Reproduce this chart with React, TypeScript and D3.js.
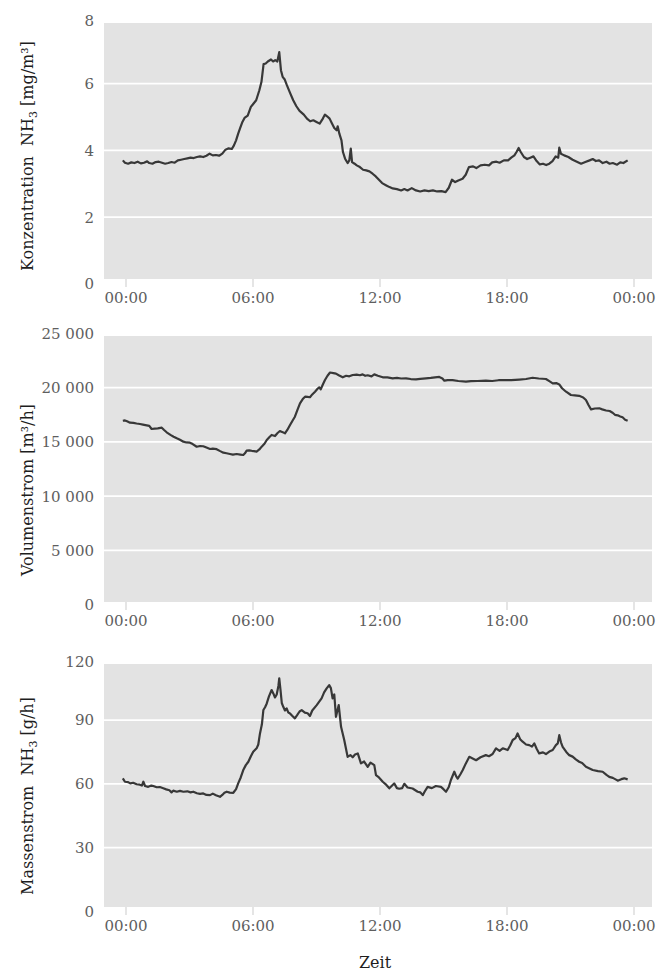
import React from "react";
import * as d3 from "d3";

// ---------- data (hours of day) ----------
const concTime = [-0.15,-0.05,0.1,0.25,0.4,0.55,0.7,0.85,1.0,1.1,1.25,1.4,1.55,1.7,1.85,2.0,2.15,2.3,2.45,2.6,2.75,2.9,3.05,3.2,3.35,3.5,3.65,3.8,3.95,4.1,4.25,4.4,4.55,4.7,4.85,5.0,5.1,5.2,5.3,5.4,5.5,5.6,5.75,5.9,6.0,6.15,6.3,6.4,6.5,6.6,6.7,6.85,6.95,7.05,7.15,7.24,7.32,7.4,7.5,7.6,7.75,7.9,8.05,8.2,8.4,8.55,8.7,8.85,9.0,9.15,9.3,9.4,9.5,9.62,9.72,9.84,9.95,10.0,10.08,10.18,10.25,10.35,10.47,10.55,10.62,10.68,10.8,10.9,11.05,11.2,11.35,11.5,11.65,11.8,11.95,12.1,12.3,12.45,12.6,12.8,13.0,13.15,13.3,13.5,13.7,13.9,14.1,14.3,14.5,14.7,14.9,15.1,15.25,15.4,15.55,15.7,15.9,16.05,16.2,16.4,16.55,16.75,16.95,17.15,17.3,17.5,17.65,17.85,18.05,18.2,18.35,18.45,18.55,18.65,18.8,18.95,19.1,19.25,19.4,19.55,19.7,19.85,20.0,20.15,20.3,20.42,20.47,20.55,20.7,20.9,21.1,21.3,21.5,21.7,21.9,22.05,22.2,22.35,22.52,22.7,22.85,23.0,23.2,23.35,23.5,23.7];
const concValue = [3.70,3.63,3.60,3.64,3.62,3.66,3.61,3.63,3.67,3.62,3.60,3.65,3.66,3.63,3.60,3.62,3.65,3.63,3.70,3.72,3.74,3.76,3.78,3.77,3.80,3.82,3.80,3.84,3.90,3.85,3.86,3.84,3.90,4.02,4.06,4.04,4.15,4.30,4.50,4.68,4.85,4.97,5.04,5.30,5.38,5.50,5.80,6.05,6.58,6.60,6.66,6.72,6.66,6.70,6.66,6.94,6.40,6.20,6.12,5.95,5.72,5.50,5.32,5.18,5.07,4.95,4.87,4.90,4.85,4.80,4.95,5.07,5.02,4.95,4.82,4.67,4.60,4.72,4.50,4.30,3.95,3.75,3.62,3.70,4.05,3.65,3.60,3.55,3.50,3.42,3.40,3.37,3.30,3.22,3.12,3.02,2.95,2.90,2.86,2.84,2.80,2.84,2.80,2.87,2.80,2.77,2.80,2.78,2.80,2.77,2.78,2.75,2.88,3.12,3.05,3.10,3.15,3.27,3.50,3.52,3.47,3.55,3.57,3.55,3.64,3.66,3.63,3.70,3.70,3.78,3.85,3.95,4.07,3.95,3.80,3.74,3.78,3.82,3.68,3.58,3.60,3.56,3.60,3.68,3.82,3.78,4.08,3.90,3.85,3.80,3.72,3.66,3.60,3.65,3.70,3.74,3.68,3.70,3.62,3.66,3.60,3.62,3.57,3.64,3.62,3.70];

const flowTime = [-0.15,-0.05,0.05,0.19,0.35,0.5,0.66,0.8,0.98,1.1,1.21,1.35,1.5,1.69,1.8,1.92,2.1,2.25,2.4,2.55,2.71,2.85,3.02,3.15,3.34,3.5,3.65,3.8,3.97,4.1,4.28,4.45,4.6,4.75,4.91,5.05,5.23,5.4,5.54,5.62,5.7,5.82,5.94,6.05,6.17,6.3,6.41,6.55,6.65,6.78,6.88,7.04,7.15,7.27,7.4,7.51,7.62,7.75,7.88,7.98,8.1,8.22,8.35,8.46,8.58,8.69,8.8,8.93,9.05,9.13,9.2,9.3,9.4,9.52,9.64,9.8,9.92,10.05,10.24,10.4,10.55,10.71,10.9,11.05,11.18,11.3,11.42,11.6,11.73,11.9,12.13,12.35,12.6,12.8,13.0,13.23,13.45,13.7,13.9,14.17,14.4,14.6,14.8,14.95,15.04,15.2,15.43,15.7,16.06,16.3,16.6,17.0,17.3,17.6,17.95,18.2,18.58,18.9,19.21,19.5,19.84,20.0,20.16,20.35,20.47,20.6,20.79,21.02,21.2,21.41,21.6,21.73,21.85,21.97,22.15,22.36,22.5,22.68,22.85,22.99,23.1,23.23,23.35,23.46,23.58,23.7];
const flowValue = [16950,16980,16900,16770,16760,16700,16650,16600,16530,16480,16190,16220,16250,16310,16100,15885,15650,15480,15330,15200,15020,14950,14925,14800,14555,14620,14600,14480,14345,14380,14330,14150,14005,13950,13885,13820,13885,13830,13790,13950,14190,14220,14180,14150,14100,14300,14560,14850,15175,15450,15640,15540,15800,16005,15900,15790,16100,16560,17000,17325,17950,18560,18950,19170,19150,19120,19380,19630,19900,20035,19850,20300,20710,21100,21400,21350,21300,21150,20960,21100,21050,21170,21200,21150,21230,21100,21150,21050,21230,21100,20960,20950,20865,20900,20850,20865,20800,20775,20820,20865,20900,20950,20990,20850,20645,20700,20700,20620,20555,20600,20620,20645,20620,20690,20710,20700,20750,20800,20920,20850,20800,20600,20400,20420,20300,19950,19630,19325,19300,19250,19100,18865,18400,18000,18080,18100,18000,17900,17850,17690,17500,17450,17350,17270,17050,16955];

const massTime = [-0.15,-0.05,0.1,0.2,0.34,0.5,0.65,0.75,0.82,0.9,1.05,1.2,1.29,1.45,1.6,1.76,1.9,2.05,2.15,2.23,2.4,2.55,2.71,2.9,3.05,3.18,3.35,3.5,3.65,3.8,3.97,4.1,4.25,4.44,4.55,4.65,4.76,4.9,5.07,5.2,5.3,5.42,5.54,5.66,5.78,5.9,6.01,6.17,6.25,6.33,6.42,6.49,6.57,6.65,6.75,6.88,6.96,7.04,7.12,7.2,7.24,7.3,7.36,7.43,7.51,7.59,7.67,7.75,7.85,7.98,8.1,8.2,8.3,8.45,8.58,8.69,8.8,9.01,9.12,9.24,9.36,9.48,9.6,9.68,9.76,9.84,9.92,10.0,10.05,10.16,10.31,10.47,10.6,10.71,10.82,10.95,11.1,11.25,11.42,11.55,11.73,11.81,11.95,12.13,12.3,12.44,12.55,12.67,12.8,12.91,13.05,13.15,13.3,13.54,13.78,13.9,14.02,14.12,14.25,14.45,14.64,14.88,15.0,15.12,15.25,15.35,15.51,15.6,15.67,15.8,15.91,16.05,16.22,16.4,16.54,16.75,17.0,17.15,17.32,17.48,17.65,17.8,18.03,18.15,18.27,18.4,18.5,18.62,18.74,18.9,19.05,19.18,19.29,19.4,19.52,19.7,19.84,20.0,20.16,20.31,20.4,20.47,20.55,20.63,20.8,20.94,21.1,21.25,21.41,21.55,21.73,21.9,22.05,22.3,22.52,22.7,22.83,23.0,23.15,23.23,23.4,23.54,23.7];
const massValue = [62.6,61.0,60.8,60.2,60.5,59.8,59.6,59.2,61.0,59.0,58.6,59.2,59.0,58.4,58.5,57.9,57.4,57.0,56.0,56.8,56.3,56.7,56.3,56.5,56.0,56.3,55.6,55.3,55.5,54.8,54.7,55.4,54.6,53.9,54.8,55.8,56.3,55.9,55.8,57.5,60.2,63.0,66.5,68.8,70.4,73.0,75.1,76.7,78.5,83.7,88.0,94.7,96.0,97.8,101.0,104.1,102.5,100.6,102.0,106.0,109.6,104.0,98.0,96.2,94.5,95.5,93.5,93.1,92.0,90.8,92.5,94.0,94.7,93.5,93.2,91.9,94.5,97.0,98.5,100.2,103.0,104.9,106.4,105.0,100.2,102.0,91.5,95.0,97.0,86.8,80.6,72.7,73.5,72.5,73.8,74.3,69.6,70.5,68.0,70.0,68.8,64.1,63.0,61.0,59.5,57.9,59.0,60.2,58.0,57.7,58.0,60.0,58.3,57.8,56.3,56.0,54.7,56.5,58.6,58.0,59.0,58.6,57.5,56.3,58.5,61.8,65.7,63.5,62.5,64.5,66.5,69.5,72.7,71.8,71.1,72.5,73.5,73.0,74.0,76.7,75.5,76.7,75.9,78.0,80.6,81.5,83.7,81.0,79.8,78.5,78.2,77.5,79.0,76.5,74.3,74.8,74.0,75.2,75.9,78.2,79.0,82.9,79.5,77.4,75.0,73.5,72.8,71.5,70.4,69.8,68.0,67.2,66.5,66.0,65.7,64.2,63.3,62.8,62.0,61.5,62.2,62.6,62.1];

const xTickHours = [0, 6, 12, 18, 24];
const xTickLabels = ["00:00", "06:00", "12:00", "18:00", "00:00"];
const concTicks = [0, 2, 4, 6, 8];
const flowTicks = [0, 5000, 10000, 15000, 20000, 25000];
const massTicks = [0, 30, 60, 90, 120];

// ---------- layout ----------
const W = 656;
const H = 972;
const LEFT = 104;
const RIGHT = 652;
const FONT = "'DejaVu Serif', serif";

const fmtThousands = d3.formatLocale({
  decimal: ",",
  thousands: " ",
  grouping: [3],
  currency: ["", ""],
}).format(",d");

const x = d3.scaleLinear().domain([0, 24]).range([126, 634]);

type PanelDef = {
  key: string;
  top: number;
  bottom: number;
  range: [number, number];
  domain: [number, number];
  ticks: number[];
  fmt: (v: number) => string;
  time: number[];
  values: number[];
  titleCenter: number;
  title: React.ReactNode;
};

const panels: PanelDef[] = [
  {
    key: "conc",
    top: 23,
    bottom: 279,
    range: [284, 16.7],
    domain: [0, 8],
    ticks: concTicks,
    fmt: (v) => String(v),
    time: concTime,
    values: concValue,
    titleCenter: 156,
    title: (
      <>
        <tspan>{"Konzentration\u00a0\u00a0NH"}</tspan>
        <tspan fontSize={11} dy={4}>3</tspan>
        <tspan dy={-4}>{" [mg/m³]"}</tspan>
      </>
    ),
  },
  {
    key: "flow",
    top: 336,
    bottom: 602,
    range: [604.5, 333.5],
    domain: [0, 25000],
    ticks: flowTicks,
    fmt: (v) => fmtThousands(v),
    time: flowTime,
    values: flowValue,
    titleCenter: 490,
    title: <tspan>{"Volumenstrom [m³/h]"}</tspan>,
  },
  {
    key: "mass",
    top: 664,
    bottom: 907,
    range: [911.5, 656.2],
    domain: [0, 120],
    ticks: massTicks,
    fmt: (v) => String(v),
    time: massTime,
    values: massValue,
    titleCenter: 796,
    title: (
      <>
        <tspan>{"Massenstrom\u00a0\u00a0NH"}</tspan>
        <tspan fontSize={11} dy={4}>3</tspan>
        <tspan dy={-4}>{" [g/h]"}</tspan>
      </>
    ),
  },
];

function Panel({ p }: { p: PanelDef }) {
  const y = d3.scaleLinear().domain(p.domain).range(p.range);
  const pts: [number, number][] = p.time.map((t, i) => [t, p.values[i]]);
  const line = d3
    .line<[number, number]>()
    .x((d) => x(d[0]))
    .y((d) => y(d[1]));
  return (
    <g>
      <rect x={LEFT} y={p.top} width={RIGHT - LEFT} height={p.bottom - p.top} fill="#e3e3e3" />
      {p.ticks
        .filter((v) => y(v) > p.top + 1 && y(v) < p.bottom - 1)
        .map((v) => (
          <line key={v} x1={LEFT} x2={RIGHT} y1={y(v)} y2={y(v)} stroke="#ffffff" strokeWidth={1.8} />
        ))}
      {p.ticks.map((v) => (
        <text
          key={"l" + v}
          x={94}
          y={Math.max(y(v), p.top - 2)}
          dy="0.36em"
          textAnchor="end"
          fontFamily={FONT}
          fontSize={15}
          fill="#5e5e5e"
        >
          {p.fmt(v)}
        </text>
      ))}
      {xTickHours.map((h, i) => (
        <g key={"x" + i}>
          <line x1={x(h)} x2={x(h)} y1={p.bottom} y2={p.bottom + 8} stroke="#d4d4d4" strokeWidth={1.2} />
          <text
            x={x(h)}
            y={p.bottom + 24}
            textAnchor="middle"
            fontFamily={FONT}
            fontSize={15}
            fill="#5e5e5e"
          >
            {xTickLabels[i]}
          </text>
        </g>
      ))}
      <path d={line(pts) || ""} fill="none" stroke="#383838" strokeWidth={2.2} strokeLinejoin="round" />
      <text
        transform={`translate(33,${p.titleCenter}) rotate(-90)`}
        textAnchor="middle"
        fontFamily={FONT}
        fontSize={16}
        fill="#1e1e1e"
      >
        {p.title}
      </text>
    </g>
  );
}

export default function App() {
  return (
    <svg
      width={W}
      height={H}
      viewBox={`0 0 ${W} ${H}`}
      style={{ position: "absolute", left: 0, top: 0, display: "block", background: "#ffffff" }}
    >
      <rect x={0} y={0} width={W} height={H} fill="#ffffff" />
      {panels.map((p) => (
        <Panel key={p.key} p={p} />
      ))}
      <text x={375} y={968} textAnchor="middle" fontFamily={FONT} fontSize={16} fill="#1e1e1e">
        Zeit
      </text>
    </svg>
  );
}
